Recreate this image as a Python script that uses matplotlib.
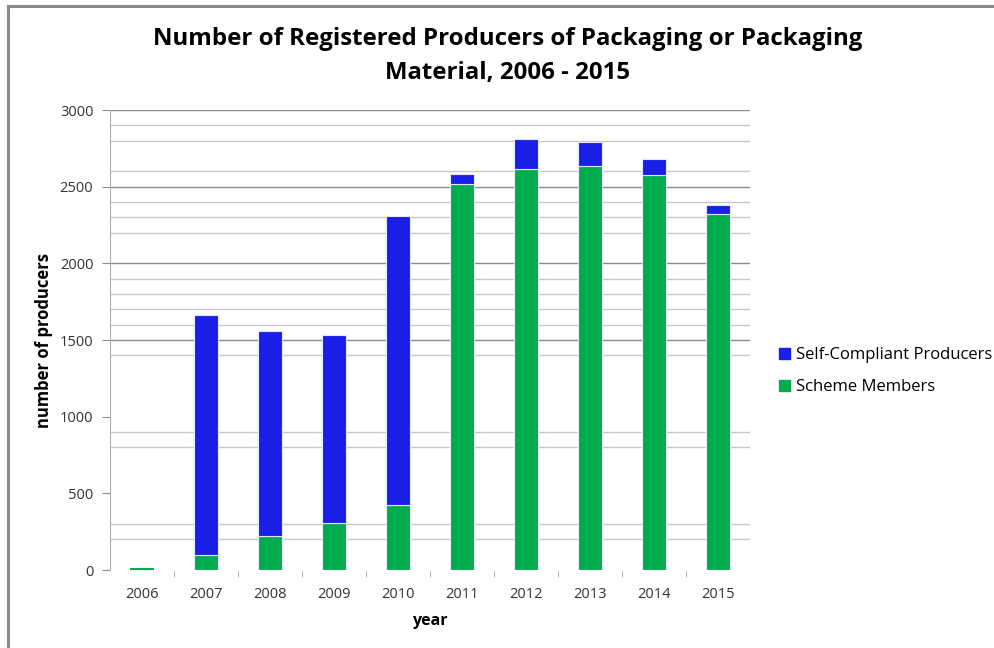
import matplotlib.pyplot as plt
from matplotlib.patches import Patch
from matplotlib.lines import Line2D

years = ['2006', '2007', '2008', '2009', '2010', '2011', '2012', '2013', '2014', '2015']
scheme = [12, 100, 222, 307, 424, 2517, 2615, 2635, 2576, 2322]
self_comp = [0, 1560, 1337, 1226, 1885, 66, 196, 156, 105, 58]

# gridlines that show in the original (some are missing there)
major_lines = [3000, 2500, 2000, 1500]
minor_lines = [2900, 2800, 2600, 2400, 2300, 2200, 1900, 1800, 1700, 1600, 1400, 900, 800, 300, 200]

blue = '#1a1fe8'
green = '#00ac4e'

plt.rcParams['font.family'] = ['Open Sans', 'DejaVu Sans']

fig = plt.figure(figsize=(9.95, 6.48), dpi=100)
ax = fig.add_axes([110 / 995, 1 - 570 / 648, 640 / 995, 460 / 648])

x = range(len(years))
for v in minor_lines:
    ax.axhline(v, color='#c8c8c8', lw=1, zorder=0)
for v in major_lines:
    ax.axhline(v, color='#8c8c8c', lw=1, zorder=0)

# thin bars get no edge, otherwise the edge hides the fill
g_lw = [0.8 if v > 30 else 0 for v in scheme]
b_lw = [0.8 if v > 30 else 0 for v in self_comp]
ax.bar(x, scheme, width=0.39, color=green, edgecolor='#e4f0ff', lw=g_lw, zorder=2)
ax.bar(x, self_comp, bottom=scheme, width=0.39, color=blue, edgecolor='#e4e8ff', lw=b_lw, zorder=2)

ax.set_xlim(-0.5, len(years) - 0.5)
ax.set_ylim(0, 3000)
ax.set_yticks(range(0, 3001, 500))
ax.set_xticks(list(x))
ax.set_xticklabels(years)
ax.set_xticks([i + 0.5 for i in range(len(years) - 1)], minor=True)
ax.tick_params(axis='x', which='major', length=0, pad=12, labelsize=10.5, colors='#333333')
ax.tick_params(axis='x', which='minor', length=5, color='#b0b0b0', direction='out')
ax.tick_params(axis='y', length=6, labelsize=10.5, pad=6, colors='#8c8c8c', labelcolor='#333333')

for s in ['top', 'right', 'bottom']:
    ax.spines[s].set_visible(False)
ax.spines['left'].set_color('#b0b0b0')

ax.set_xlabel('year', fontsize=11.5, fontweight='bold', labelpad=8)
ax.set_ylabel('number of producers', fontsize=12, fontweight='bold', labelpad=5)

fig.text(508 / 995, 1 - 39 / 648, 'Number of Registered Producers of Packaging or Packaging',
         ha='center', va='center', fontsize=17.3, fontweight='bold')
fig.text(508 / 995, 1 - 73 / 648, 'Material, 2006 - 2015',
         ha='center', va='center', fontsize=17.3, fontweight='bold')

handles = [Patch(color=blue, label='Self-Compliant Producers'),
           Patch(color=green, label='Scheme Members')]
fig.legend(handles=handles, loc='center left', bbox_to_anchor=(764 / 995, 1 - 371 / 648),
           frameon=False, fontsize=12, handlelength=0.65, handleheight=0.65,
           handletextpad=0.35, labelspacing=0.95)

# outer frame, left and top
fig.add_artist(Line2D([8 / 995, 8 / 995], [0, 1 - 6 / 648], color='#8a8a8a', lw=2.2))
fig.add_artist(Line2D([8 / 995, 1], [1 - 6 / 648, 1 - 6 / 648], color='#8a8a8a', lw=2.2))

fig.savefig('out.png', dpi=100)
